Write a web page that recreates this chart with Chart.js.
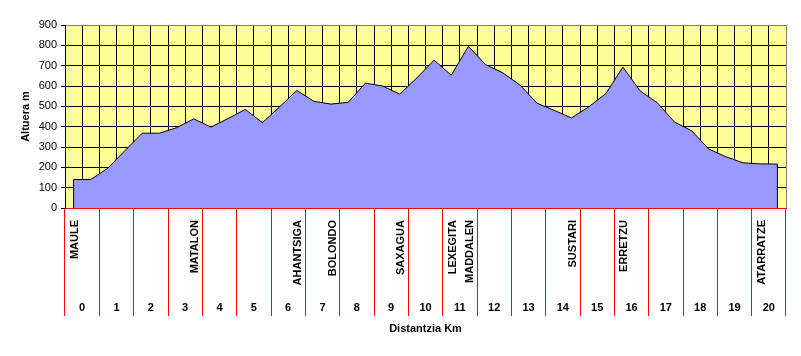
<!DOCTYPE html>
<html><head><meta charset="utf-8">
<script src="https://cdn.jsdelivr.net/npm/chart.js@4"></script>
<style>html,body{margin:0;padding:0;background:#fff}canvas{display:block}</style>
</head><body>
<canvas id="c" width="801" height="356"></canvas>
<script>
// Half-km profile categories (place names shown under the plot)
const placeNames = ['MAULE','','','','','','','MATALON','','','','','','AHANTSIGA','','BOLONDO','','','','SAXAGUA','','','LEXEGITA','MADDALEN','','','','','','SUSTARI','','','ERRETZU','','','','','','','','ATARRATZE',''];
// Elevation (m) at each half-km category
const elevation = [140,140,196,283,368,368,395,438,398,440,485,420,497,578,525,511,520,614,600,560,640,727,653,795,705,665,605,515,480,443,497,562,693,576,518,423,380,290,252,222,217,216];
// Km tick labels
const kmLabels = ['0','1','2','3','4','5','6','7','8','9','10','11','12','13','14','15','16','17','18','19','20'];
const yMin = 0, yMax = 900, yStep = 100;

const FONT = '"Liberation Sans", Arial, sans-serif';

const plotBg = {
  id: 'plotBg',
  beforeDraw(chart) {
    const {ctx, chartArea: a} = chart;
    ctx.save();
    ctx.fillStyle = '#FFFF99';
    ctx.fillRect(a.left, a.top, a.right - a.left, a.bottom - a.top);
    ctx.restore();
  }
};

const edges = {
  id: 'edges',
  afterDatasetsDraw(chart) {
    const meta = chart.getDatasetMeta(0);
    const base = chart.scales.y.getPixelForValue(0);
    const ctx = chart.ctx;
    ctx.save();
    ctx.strokeStyle = '#000';
    ctx.lineWidth = 1;
    [meta.data[0], meta.data[meta.data.length - 1]].forEach(p => {
      ctx.beginPath();
      ctx.moveTo(p.x, base);
      ctx.lineTo(p.x, p.y);
      ctx.stroke();
    });
    ctx.restore();
  }
};

const places = {
  id: 'places',
  afterDraw(chart) {
    const xs = chart.scales.x;
    const top = chart.chartArea.bottom + 12;
    const ctx = chart.ctx;
    ctx.save();
    ctx.font = 'bold 11px ' + FONT;
    ctx.fillStyle = '#000';
    ctx.textAlign = 'right';
    ctx.textBaseline = 'alphabetic';
    placeNames.forEach((n, i) => {
      if (!n) return;
      const px = xs.getPixelForValue(i);
      ctx.save();
      ctx.translate(px + 4.5, top);
      ctx.rotate(-Math.PI / 2);
      ctx.fillText(n, 0, 0);
      ctx.restore();
    });
    ctx.restore();
  }
};

new Chart(document.getElementById('c'), {
  type: 'line',
  data: {
    labels: placeNames,
    datasets: [{
      data: elevation,
      fill: 'origin',
      backgroundColor: '#9999FF',
      borderColor: '#000',
      borderWidth: 1,
      pointRadius: 0,
      tension: 0,
      xAxisID: 'x',
      yAxisID: 'y'
    }]
  },
  options: {
    responsive: false,
    animation: false,
    devicePixelRatio: 1,
    layout: {padding: {top: 25, right: 15, bottom: 0, left: 0}},
    plugins: {legend: {display: false}, tooltip: {enabled: false}},
    scales: {
      x: {
        type: 'category', position: 'bottom', offset: true, weight: 0,
        grid: {offset: true, drawTicks: false, lineWidth: 1,
               color: c => c.type === 'tick' ? '#000' : '#808080'},
        border: {display: false},
        ticks: {display: false},
        afterFit(s) { s.height = 0; }
      },
      km: {
        type: 'category', labels: kmLabels, position: 'bottom', offset: true, weight: 1, z: 1,
        grid: {offset: true, drawOnChartArea: false, drawTicks: true, tickLength: 108,
               tickColor: '#FF0000', tickWidth: 1, color: '#FF0000'},
        border: {display: true, color: '#FF0000', width: 1},
        ticks: {color: '#000', font: {family: FONT, size: 11, weight: 'bold'}, padding: -15,
                maxRotation: 0, autoSkip: false},
        title: {display: true, text: 'Distantzia Km', color: '#000',
                font: {family: FONT, size: 11, weight: 'bold'}, padding: {top: 0, bottom: 20}},
        afterFit(s) { s.height = 148; }
      },
      y: {
        min: yMin, max: yMax, position: 'left',
        ticks: {stepSize: yStep, color: '#000', font: {family: FONT, size: 11}, padding: 4},
        grid: {
          color: c => (c.tick && c.tick.value === yMax) ? '#808080' : ((c.tick && c.tick.value === yMin) ? '#FF0000' : '#000'),
          tickColor: '#000', tickLength: 4, drawTicks: true, lineWidth: 1
        },
        border: {display: true, color: '#000'},
        title: {display: true, text: 'Altuera m', color: '#000',
                font: {family: FONT, size: 11, weight: 'bold'}, padding: {top: 19, bottom: 0}},
        afterFit(s) { s.width = 65; }
      }
    }
  },
  plugins: [plotBg, edges, places]
});
</script>
</body></html>
